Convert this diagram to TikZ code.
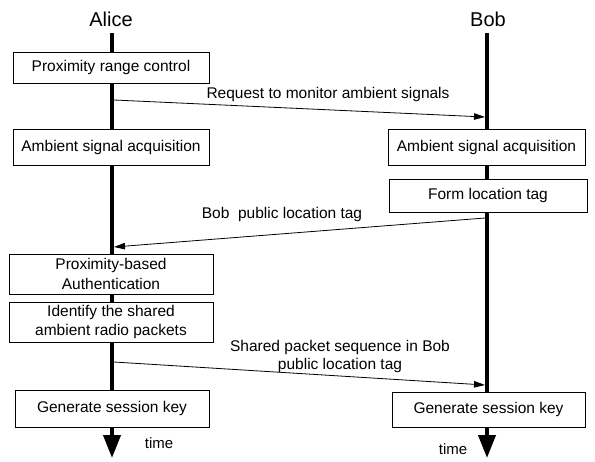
\documentclass[tikz,border=0pt]{standalone}
\usepackage{fontspec}
\setmainfont{Liberation Sans}
\usetikzlibrary{arrows.meta}
\begin{document}
\begin{tikzpicture}[x=1pt,y=-1pt,
  actbox/.style={draw=black,line width=0.8pt,fill=white,minimum height=#1,inner sep=0pt,align=center,font=\fontsize{15.5}{19.5}\selectfont},
  actbox/.default=34pt,
  party/.style={font=\fontsize{20}{24}\selectfont,inner sep=0pt},
  lifeline/.style={line width=4pt,-{Triangle[length=23pt,width=17pt]}},
  msg/.style={line width=0.8pt,-{Triangle[length=11pt,width=6.5pt]}},
  msglabel/.style={font=\fontsize{15.5}{18}\selectfont,inner sep=0pt,align=center},
  timelabel/.style={font=\fontsize{15}{17}\selectfont,inner sep=0pt}]
\useasboundingbox (0,0) rectangle (595,461);
% parties
\node[party] (alice) at (111,19) {Alice};
\node[party] (bob) at (488,19) {Bob};
\coordinate (atop) at (112,33);
\coordinate (btop) at (487,33);
\coordinate (abot) at (112,458);
\coordinate (bbot) at (487,458);
\draw[lifeline] (atop) -- (abot);
\draw[lifeline] (btop) -- (bbot);
% boxes
\node[actbox=31pt,minimum width=196pt] (prc) at (111,67.5) {Proximity range control};
\node[actbox=36pt,minimum width=196pt] (aA) at (111,147) {Ambient signal acquisition};
\node[actbox=36pt,minimum width=197pt] (aB) at (486.5,147) {Ambient signal acquisition};
\node[actbox=33pt,minimum width=198pt] (flt) at (488,195.5) {Form location tag};
\node[actbox=40pt,minimum width=204pt] (pba) at (111,274) {Proximity-based\\Authentication};
\node[actbox=40pt,minimum width=204pt] (isp) at (111,322) {Identify the shared\\ambient radio packets};
\node[actbox=37pt,minimum width=194pt] (gA) at (112,408.5) {Generate session key};
\node[actbox=35pt,minimum width=193pt] (gB) at (488.5,409.5) {Generate session key};
% message end points
\coordinate (m1s) at (114,100);
\coordinate (m1e) at (485,117);
\coordinate (m2s) at (485,218);
\coordinate (m2e) at (114,247);
\coordinate (m3s) at (114,362);
\coordinate (m3e) at (485,385);
\draw[msg] (m1s) -- (m1e);
\draw[msg] (m2s) -- (m2e);
\draw[msg] (m3s) -- (m3e);
\node[msglabel] (l1) at (328,94) {Request to monitor ambient signals};
\node[msglabel] (l2) at (282,214) {Bob\ \ public location tag};
\node[msglabel] (l3) at (340,356) {Shared packet sequence in Bob\\public location tag};
% time labels
\node[timelabel] (t1) at (159,443) {time};
\node[timelabel] (t2) at (453,449) {time};
\end{tikzpicture}
\end{document}
